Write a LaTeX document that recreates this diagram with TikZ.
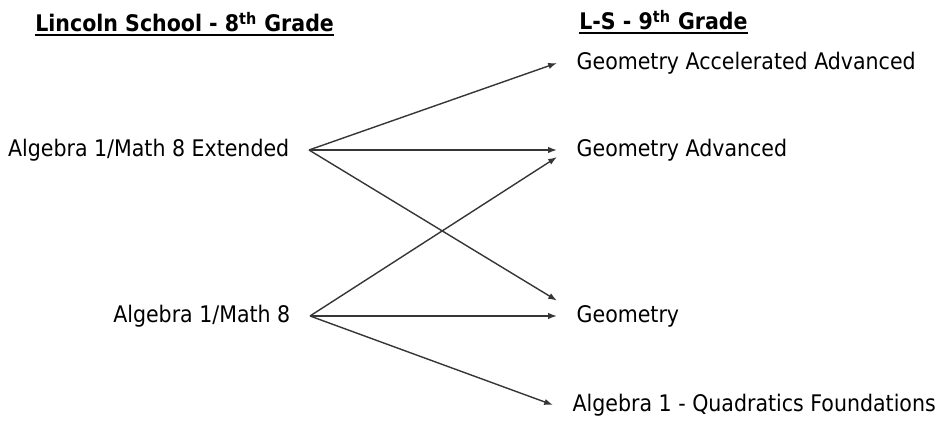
\documentclass[tikz,border=0pt]{standalone}
\usepackage{fontspec}
\setmainfont{DejaVu Sans Condensed}
\usepackage{tikz}
\usetikzlibrary{arrows.meta,positioning}
\definecolor{ArrowGrey}{HTML}{363636}
\newcommand{\coursesize}{\fontsize{13}{15}\selectfont}

\begin{document}
\begin{tikzpicture}[
  x=0.02cm,y=-0.02cm,
  course/.style={font=\coursesize,inner xsep=11pt,inner ysep=4.9pt,text height=0.73em,text depth=0pt},
  head/.style={font=\coursesize\bfseries,inner sep=0pt},
  uline/.style={line width=1pt,black},
  arr/.style={-{Latex[length=5pt,width=3.6pt]},line width=0.8pt,ArrowGrey}
]
  \useasboundingbox (0,0) rectangle (946,421);

  \node[head,anchor=base west] (hd8) at (35,32) {Lincoln School - 8\textsuperscript{th} Grade};
  \node[head,anchor=base west] (hd9) at (579,30) {L-S - 9\textsuperscript{th} Grade};
  \draw[uline] ([yshift=-1.6pt]hd8.base west) -- ([yshift=-1.6pt]hd8.base east);
  \draw[uline] ([yshift=-1.6pt]hd9.base west) -- ([yshift=-1.6pt]hd9.base east);

  \node[course,anchor=east] (ext) at (309,150) {Algebra 1/Math 8 Extended};
  \node[course,anchor=east] (m8) at (310,316) {Algebra 1/Math 8};

  \node[course,anchor=west] (gaa) at (557,63) {Geometry Accelerated Advanced};
  \node[course,anchor=west] (ga) at (557,150) {Geometry Advanced};
  \node[course,anchor=west] (geo) at (557,316) {Geometry};
  \node[course,anchor=west] (quad) at (553,405) {Algebra 1 - Quadratics Foundations};

  \draw[arr] (ext.east)--(gaa.west);
  \draw[arr] (ext.east)--(ga.west);
  \draw[arr] (ext.east)--(geo.north west);
  \draw[arr] (m8.east)--([yshift=-4pt]ga.west);
  \draw[arr] (m8.east)--(geo.west);
  \draw[arr] (m8.east)--(quad.west);
\end{tikzpicture}
\end{document}
